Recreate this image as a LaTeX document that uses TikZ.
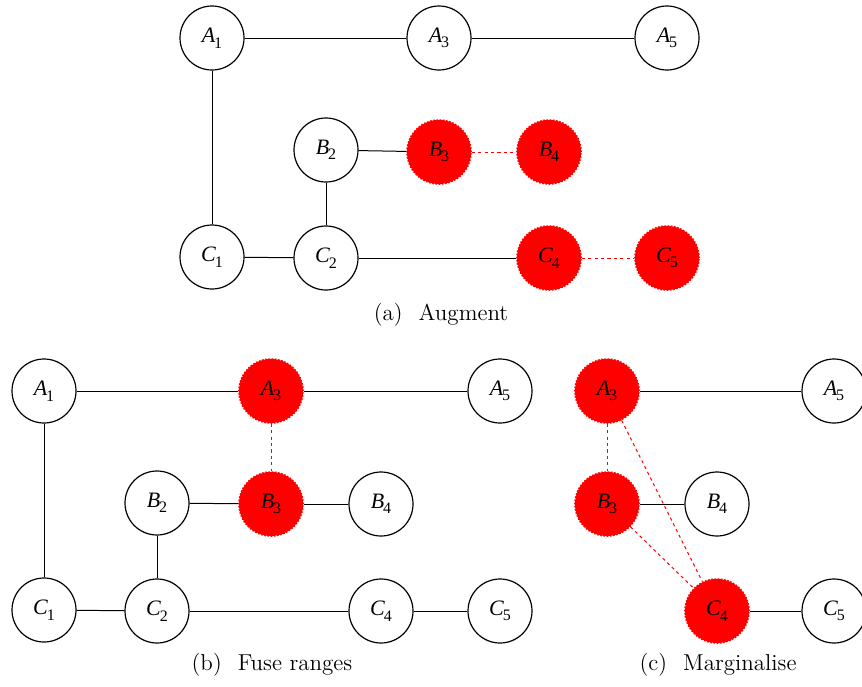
\documentclass[tikz,border=0pt]{standalone}
\usepackage{fontspec}
\newfontfamily\tnr{Liberation Serif}
\newcommand{\lab}[2]{{\tnr\fontsize{11}{12}\selectfont\itshape #1\kern-0.5pt\raisebox{-0.55ex}{\upshape\fontsize{8}{9}\selectfont #2}}}
\begin{document}
\begin{tikzpicture}[x=0.5pt,y=-0.5pt,
  vnode/.style={circle,draw=black,line width=0.6pt,fill=white,minimum size=32pt,inner sep=0pt},
  rnode/.style={circle,draw=red,dash pattern=on 0.8pt off 0.8pt,line width=0.8pt,fill=red,minimum size=32pt,inner sep=0pt},
  edge/.style={line width=0.5pt,black},
  redge/.style={line width=0.5pt,red,dash pattern=on 1.6pt off 1.6pt},
  captext/.style={font=\fontsize{11.5}{13}\selectfont}]
\useasboundingbox (0,0) rectangle (862,686);
% Panel (a)
\node[vnode] (aA1) at (212,38) {\lab{A}{1}};
\node[vnode] (aA3) at (439,38) {\lab{A}{3}};
\node[vnode] (aA5) at (667,38) {\lab{A}{5}};
\node[vnode] (aB2) at (326,150) {\lab{B}{2}};
\node[rnode] (aB3) at (439,152) {\lab{B}{3}};
\node[rnode] (aB4) at (549,152) {\lab{B}{4}};
\node[vnode] (aC1) at (212,257) {\lab{C}{1}};
\node[vnode] (aC2) at (326,258) {\lab{C}{2}};
\node[rnode] (aC4) at (549,258) {\lab{C}{4}};
\node[rnode] (aC5) at (667,258) {\lab{C}{5}};
\draw[edge] (aA1) -- (aA3);
\draw[edge] (aA3) -- (aA5);
\draw[edge] (aA1) -- (aC1);
\draw[edge] (aC1) -- (aC2);
\draw[edge] (aC2) -- (aB2);
\draw[edge] (aB2) -- (aB3);
\draw[edge] (aC2) -- (aC4);
\draw[redge] (aB3) -- (aB4);
\draw[redge] (aC4) -- (aC5);
\node[captext] (capa) at (441,315) {(a)\hskip0.7em Augment};
% Panel (b)
\node[vnode] (bA1) at (44,391) {\lab{A}{1}};
\node[rnode] (bA3) at (271,391) {\lab{A}{3}};
\node[vnode] (bA5) at (500,391) {\lab{A}{5}};
\node[vnode] (bB2) at (157,503) {\lab{B}{2}};
\node[rnode] (bB3) at (271,504) {\lab{B}{3}};
\node[vnode] (bB4) at (381,504) {\lab{B}{4}};
\node[vnode] (bC1) at (44,610) {\lab{C}{1}};
\node[vnode] (bC2) at (157,611) {\lab{C}{2}};
\node[vnode] (bC4) at (381,611) {\lab{C}{4}};
\node[vnode] (bC5) at (500,611) {\lab{C}{5}};
\draw[edge] (bA1) -- (bA3);
\draw[edge] (bA3) -- (bA5);
\draw[edge] (bA1) -- (bC1);
\draw[edge] (bC1) -- (bC2);
\draw[edge] (bC2) -- (bB2);
\draw[edge] (bB2) -- (bB3);
\draw[edge] (bB3) -- (bB4);
\draw[edge] (bC2) -- (bC4);
\draw[edge] (bC4) -- (bC5);
\draw[redge] (bA3) -- (bB3);
\node[captext] (capb) at (272,665) {(b)\hskip0.7em Fuse ranges};
% Panel (c)
\node[rnode] (cA3) at (607,391) {\lab{A}{3}};
\node[vnode] (cA5) at (834,391) {\lab{A}{5}};
\node[rnode] (cB3) at (607,504) {\lab{B}{3}};
\node[vnode] (cB4) at (717,504) {\lab{B}{4}};
\node[rnode] (cC4) at (717,611) {\lab{C}{4}};
\node[vnode] (cC5) at (834,611) {\lab{C}{5}};
\draw[edge] (cA3) -- (cA5);
\draw[edge] (cB3) -- (cB4);
\draw[edge] (cC4) -- (cC5);
\draw[redge] (cA3) -- (cB3);
\draw[redge] (cA3) -- (cC4);
\draw[redge] (cB3) -- (cC4);
\node[captext] (capc) at (718,665) {(c)\hskip0.7em Marginalise};
\end{tikzpicture}
\end{document}
